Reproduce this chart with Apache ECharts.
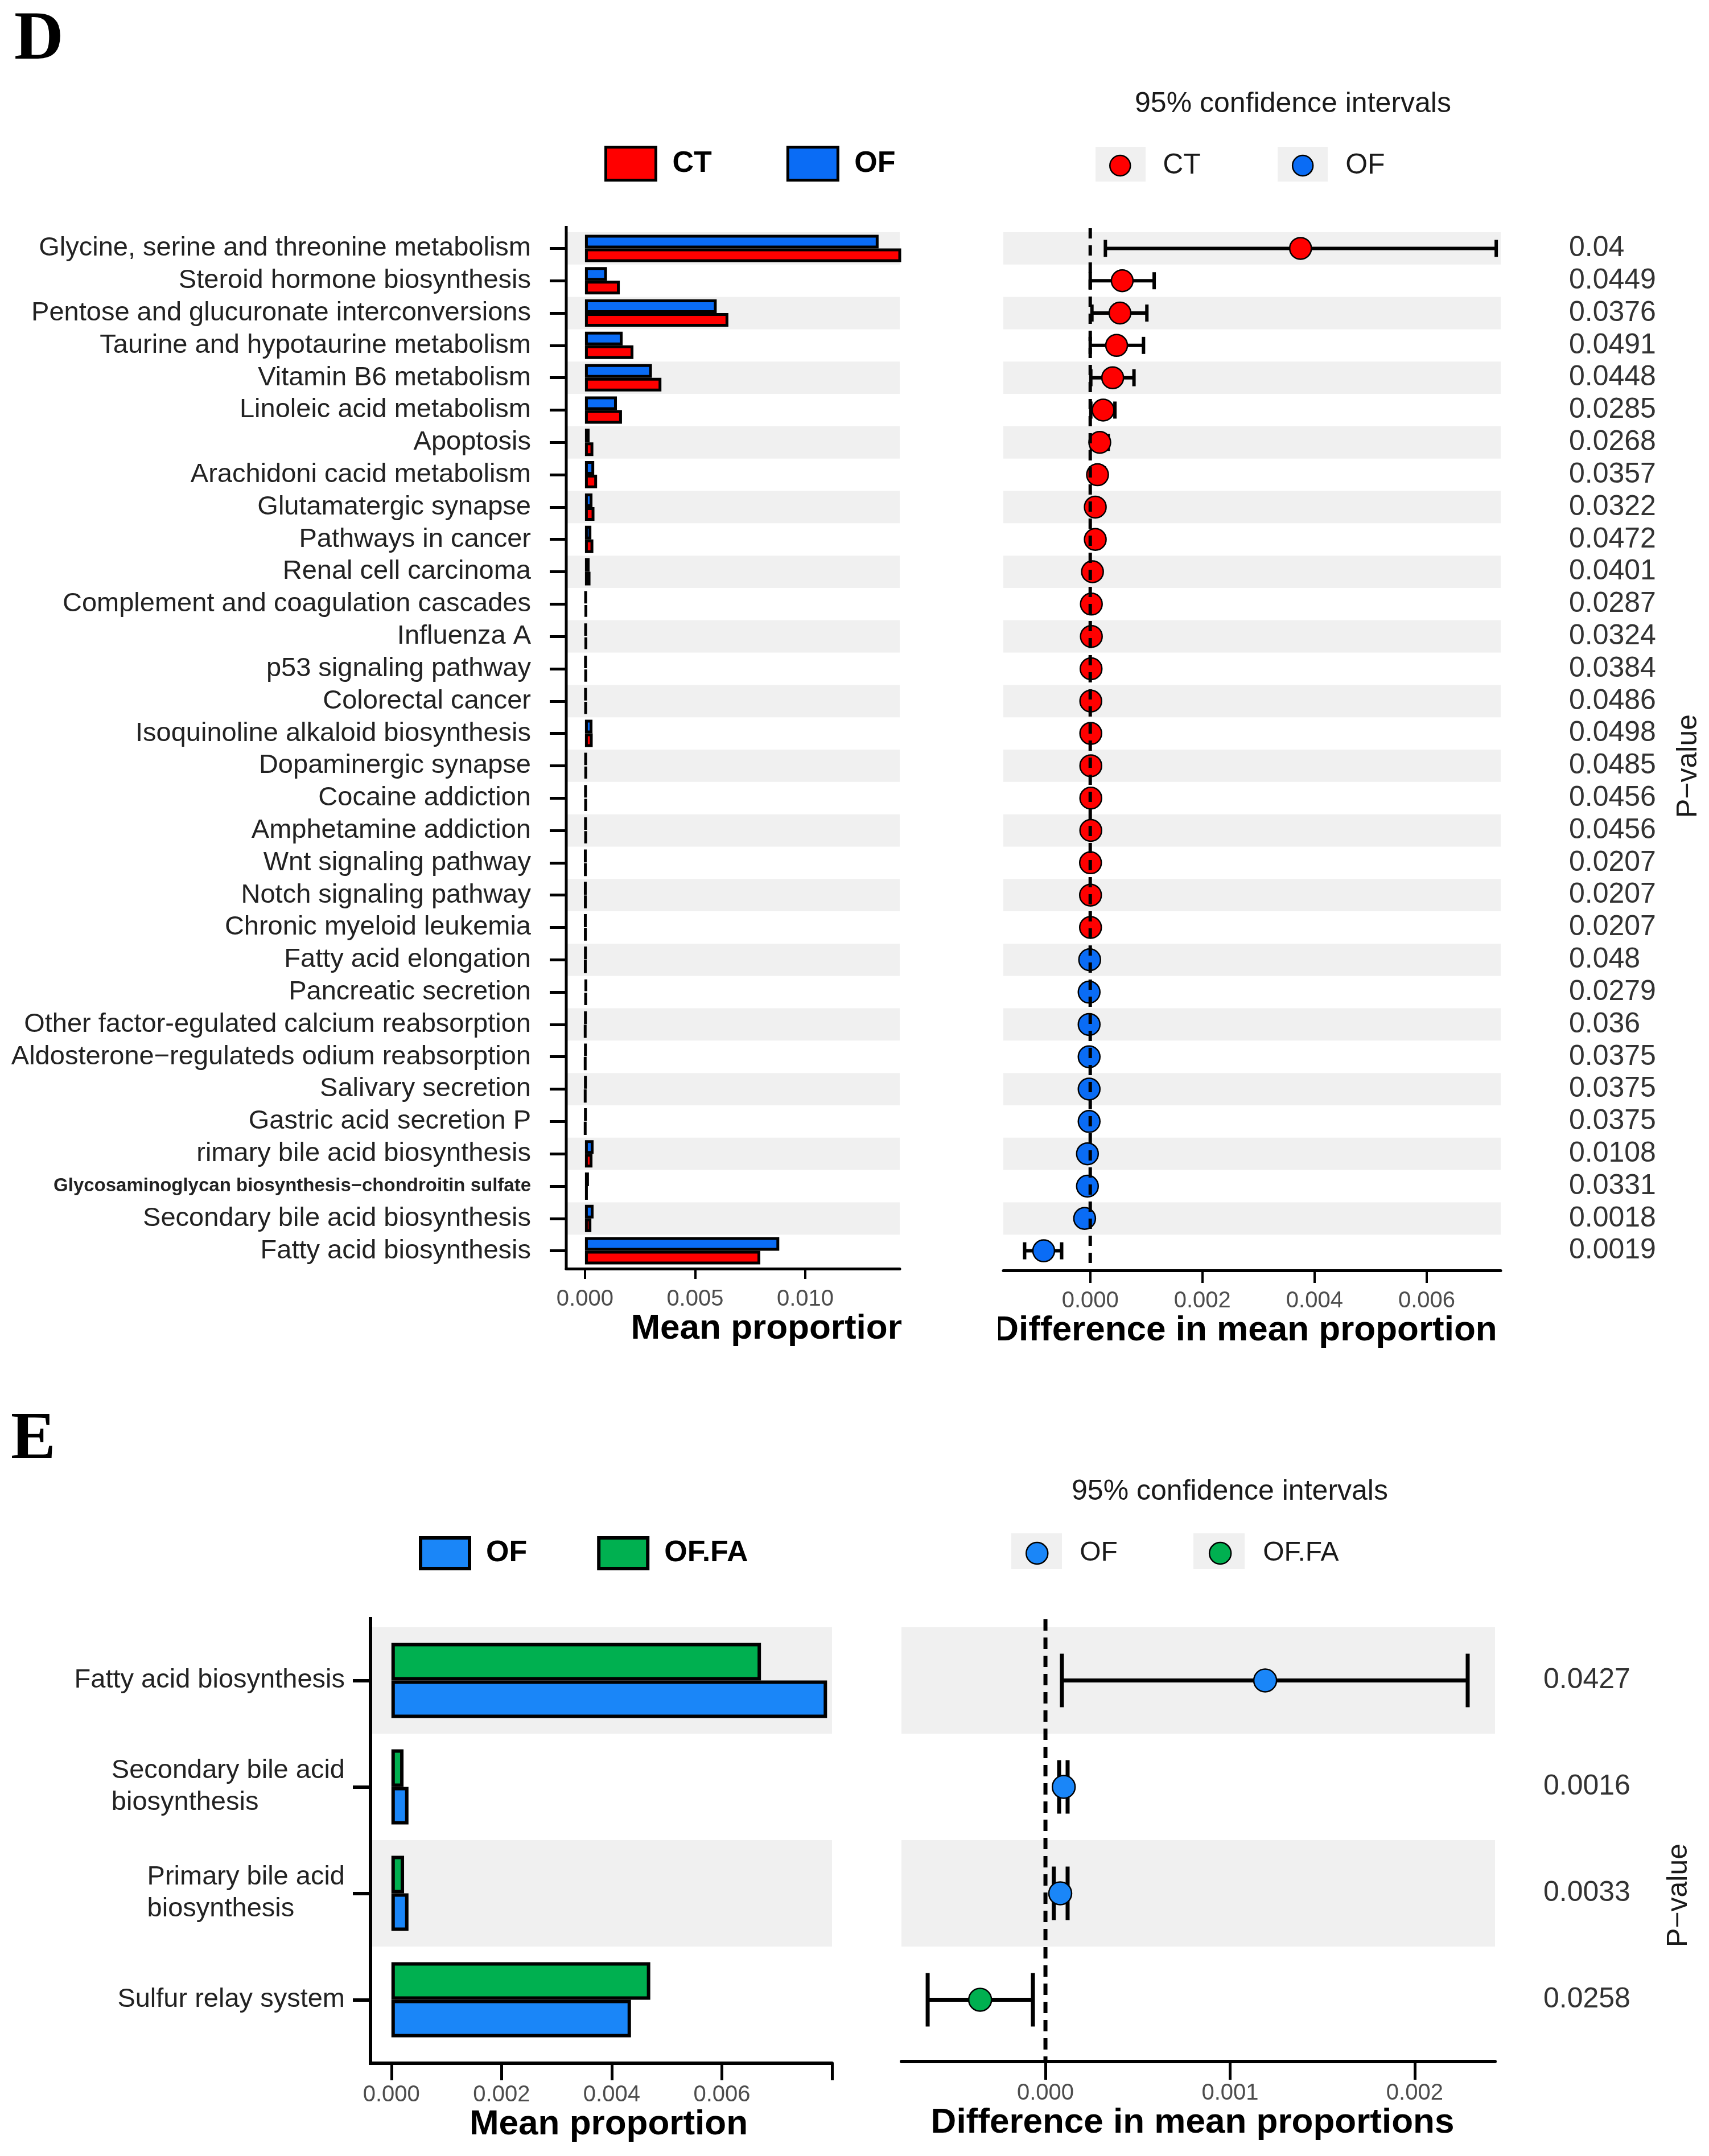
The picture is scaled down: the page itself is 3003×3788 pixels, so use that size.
<!DOCTYPE html>
<html>
<head>
<meta charset="utf-8">
<script src="https://cdn.jsdelivr.net/npm/echarts@6/dist/echarts.min.js"></script>
<style>
html,body{margin:0;padding:0;background:#ffffff;}
#chart{width:3003px;height:3788px;}
</style>
</head>
<body>
<div id="chart"></div>
<script>
// ---------------- Panel D data ----------------
const categoriesD = [
  'Glycine, serine and threonine metabolism',
  'Steroid hormone biosynthesis',
  'Pentose and glucuronate interconversions',
  'Taurine and hypotaurine metabolism',
  'Vitamin B6 metabolism',
  'Linoleic acid metabolism',
  'Apoptosis',
  'Arachidoni cacid metabolism',
  'Glutamatergic synapse',
  'Pathways in cancer',
  'Renal cell carcinoma',
  'Complement and coagulation cascades',
  'Influenza A',
  'p53 signaling pathway',
  'Colorectal cancer',
  'Isoquinoline alkaloid biosynthesis',
  'Dopaminergic synapse',
  'Cocaine addiction',
  'Amphetamine addiction',
  'Wnt signaling pathway',
  'Notch signaling pathway',
  'Chronic myeloid leukemia',
  'Fatty acid elongation',
  'Pancreatic secretion',
  'Other factor-egulated calcium reabsorption',
  'Aldosterone\u2212regulateds odium reabsorption',
  'Salivary secretion',
  'Gastric acid secretion P',
  'rimary bile acid biosynthesis',
  'Glycosaminoglycan biosynthesis\u2212chondroitin sulfate',
  'Secondary bile acid biosynthesis',
  'Fatty acid biosynthesis'
];
const meanOF_D = [0.01333, 0.00100, 0.00598, 0.00171, 0.00304, 0.00145, 0.00021, 0.00042,
  0.00034, 0.00029, 0.00021, 0.00006, 0.00006, 0.00005, 0.00005, 0.00034,
  0.00006, 0.00005, 0.00005, 0.00003, 0.00003, 0.00003, 0.00004, 0.00008,
  0.00004, 0.00004, 0.00004, 0.00004, 0.00039, 0.00018, 0.00039, 0.00882];
const meanCT_D = [0.01710, 0.00158, 0.00651, 0.00220, 0.00347, 0.00168, 0.00038, 0.00055,
  0.00043, 0.00038, 0.00025, 0.00008, 0.00008, 0.000065, 0.00006, 0.00035,
  0.00007, 0.00006, 0.00006, 0.000035, 0.000035, 0.000035, 0.00003, 0.00006,
  0.00002, 0.00002, 0.00002, 0.00002, 0.00034, 0.00013, 0.00029, 0.00796];
const diffD = [0.00375, 0.00057, 0.00053, 0.00047, 0.00040, 0.00023, 0.00017, 0.00013,
  0.00009, 0.00009, 0.00004, 0.00002, 0.00002, 0.000015, 0.00001, 0.00001,
  0.00001, 0.00001, 0.00001, 0.000005, 0.000005, 0.000005, -0.00001, -0.00002,
  -0.00002, -0.00002, -0.00002, -0.00002, -0.00005, -0.00005, -0.0001, -0.00083];
const ciLowD = [0.00027, 0.00000, 0.00003, 0.00000, 0.00001, 0.00001, 0.00002, 0.00001,
  0.00001, 0.00000, 0.00000, 0.000002, 0.000002, 0.000001, 0.000001, 0.000001,
  0.000001, 0.000001, 0.000001, 0.0000005, 0.0000005, 0.0000005, -0.00002, -0.00004,
  -0.00004, -0.00004, -0.00004, -0.00004, -0.00009, -0.00009, -0.00017, -0.00117];
const ciHighD = [0.00724, 0.00114, 0.00101, 0.00095, 0.00078, 0.00044, 0.00032, 0.00025,
  0.00017, 0.00018, 0.00008, 0.00004, 0.000038, 0.00003, 0.00002, 0.00002,
  0.00002, 0.00002, 0.00002, 0.00001, 0.00001, 0.00001, -0.000001, -0.000002,
  -0.000002, -0.000002, -0.000002, -0.000002, -0.00001, -0.00001, -0.00003, -0.00051];
const groupD = ['CT','CT','CT','CT','CT','CT','CT','CT','CT','CT','CT','CT','CT','CT','CT','CT',
  'CT','CT','CT','CT','CT','CT','OF','OF','OF','OF','OF','OF','OF','OF','OF','OF'];
const pValuesD = ['0.04','0.0449','0.0376','0.0491','0.0448','0.0285','0.0268','0.0357',
  '0.0322','0.0472','0.0401','0.0287','0.0324','0.0384','0.0486','0.0498',
  '0.0485','0.0456','0.0456','0.0207','0.0207','0.0207','0.048','0.0279',
  '0.036','0.0375','0.0375','0.0375','0.0108','0.0331','0.0018','0.0019'];
const ticksMeanD = [0, 0.005, 0.010];
const ticksDiffD = [0, 0.002, 0.004, 0.006];

// ---------------- Panel E data ----------------
const categoriesE = [
  'Fatty acid biosynthesis',
  'Secondary bile acid\nbiosynthesis',
  'Primary bile acid\nbiosynthesis',
  'Sulfur relay system'
];
const meanOF_E   = [0.00791, 0.00031, 0.00031, 0.00435];
const meanOFFA_E = [0.00671, 0.00022, 0.00023, 0.00470];
const diffE   = [0.00119, 0.000099, 0.00008, -0.000354];
const ciLowE  = [0.000089, 0.000074, 0.000045, -0.000638];
const ciHighE = [0.002287, 0.00012, 0.00012, -0.000068];
const groupE = ['OF','OF','OF','OF.FA'];
const pValuesE = ['0.0427','0.0016','0.0033','0.0258'];
const ticksMeanE = [0, 0.002, 0.004, 0.006, 0.008];
const labelsMeanE = [0, 0.002, 0.004, 0.006];
const ticksDiffE = [0, 0.001, 0.002];

// ---------------- styling ----------------
const FONT = '"Liberation Sans", Arial, Helvetica, sans-serif';
const SERIF = '"Liberation Serif", "Times New Roman", serif';
const RED = '#FF0000', BLUE_D = '#0A6CF5', BLUE_E = '#1A86F8', GREEN = '#00B050';
const BAND = '#F0F0F0';

function errRender(capH, lw) {
  return function (params, api) {
    const yi = api.value(2);
    const a = api.coord([api.value(0), yi]);
    const b = api.coord([api.value(1), yi]);
    const st = { stroke: '#000', lineWidth: lw };
    return {
      type: 'group',
      children: [
        { type: 'line', shape: { x1: a[0], y1: a[1], x2: b[0], y2: b[1] }, style: st },
        { type: 'line', shape: { x1: a[0], y1: a[1] - capH / 2, x2: a[0], y2: a[1] + capH / 2 }, style: st },
        { type: 'line', shape: { x1: b[0], y1: b[1] - capH / 2, x2: b[0], y2: b[1] + capH / 2 }, style: st }
      ]
    };
  };
}

// vertical dashed reference line at x = value, spanning the grid height
function zeroRender(lw, dash, extTop, extBottom) {
  return function (params, api) {
    const cs = params.coordSys;
    const x = api.coord([api.value(0), 0])[0];
    return {
      type: 'line',
      shape: { x1: x, y1: cs.y - extTop, x2: x, y2: cs.y + cs.height + extBottom },
      style: { stroke: '#000', lineWidth: lw, lineDash: dash }
    };
  };
}

const richE = {};
categoriesE.forEach(function (c, i) {
  richE['L' + i] = { align: 'left', fontSize: 47, fontFamily: FONT, color: '#222', lineHeight: 56 };
});

function valueAxis(grid, min, max, ticks, labels, offset, lw, tickLen, margin, name, namePad) {
  return {
    gridIndex: grid, type: 'value', min: min, max: max, offset: offset,
    axisLine: { show: true, onZero: false, lineStyle: { color: '#000', width: lw } },
    axisTick: { show: true, length: tickLen, customValues: ticks, lineStyle: { color: '#000', width: lw - 1 } },
    axisLabel: { customValues: labels, formatter: function (v) { return v.toFixed(3); },
      fontSize: 40, color: '#4D4D4D', margin: margin, fontFamily: FONT },
    splitLine: { show: false },
    name: name, nameLocation: 'middle', nameGap: 72,
    nameTextStyle: { fontSize: 62, fontWeight: 'bold', color: '#000', fontFamily: FONT, padding: namePad }
  };
}

const bandArea = { show: true, interval: 0, areaStyle: { color: [BAND, 'rgba(255,255,255,0)'] } };

const option = {
  animation: false,
  backgroundColor: '#ffffff',
  grid: [
    { left: 995, top: 408, width: 586, height: 1818, containLabel: false },
    { left: 1763, top: 408, width: 874, height: 1818, containLabel: false },
    { left: 651, top: 2859, width: 811, height: 748, containLabel: false },
    { left: 1584, top: 2859, width: 1043, height: 748, containLabel: false }
  ],
  xAxis: [
    valueAxis(0, -0.00085, 0.01429, ticksMeanD, ticksMeanD, 3, 5, 18, 34, 'Mean proportion', [0, 0, 0, 130]),
    valueAxis(1, -0.00155, 0.00732, ticksDiffD, ticksDiffD, 6, 5, 22, 34, 'Difference in mean proportion', [0, 24, 0, 0]),
    valueAxis(2, -0.00038, 0.008, ticksMeanE, labelsMeanE, 18, 6, 30, 36, 'Mean proportion', [0, 0, 0, 26]),
    valueAxis(3, -0.00078, 0.002435, ticksDiffE, ticksDiffE, 15, 6, 32, 36, 'Difference in mean proportions', [0, 20, 0, 0])
  ],
  yAxis: [
    { gridIndex: 0, type: 'category', inverse: true, data: categoriesD,
      axisLine: { show: false, onZero: false },
      axisTick: { show: true, alignWithLabel: true, length: 29, lineStyle: { color: '#000', width: 5 } },
      axisLabel: { interval: 0, margin: 62, fontSize: 47, color: '#222', fontFamily: FONT,
        formatter: function (v) { return v.indexOf('Glycosaminoglycan') === 0 ? '{g|' + v + '}' : v; },
        rich: { g: { fontSize: 33, fontWeight: 'bold', color: '#222', fontFamily: FONT } } },
      splitLine: { show: false }, splitArea: bandArea },
    { gridIndex: 1, type: 'category', inverse: true, data: categoriesD,
      axisLine: { show: false, onZero: false }, axisTick: { show: false }, axisLabel: { show: false, interval: 0 },
      splitLine: { show: false }, splitArea: bandArea },
    { gridIndex: 1, type: 'category', inverse: true, position: 'right', data: pValuesD,
      axisLine: { show: false, onZero: false }, axisTick: { show: false },
      axisLabel: { interval: 0, align: 'left', margin: 120, fontSize: 50, color: '#333', fontFamily: FONT },
      splitLine: { show: false },
      name: 'P\u2212value', nameLocation: 'middle', nameRotate: 90, nameGap: 305,
      nameTextStyle: { fontSize: 50, color: '#1a1a1a', fontFamily: FONT, padding: [0, 58, 0, 0] } },
    { gridIndex: 2, type: 'category', inverse: true, data: categoriesE,
      axisLine: { show: false, onZero: false },
      axisTick: { show: true, alignWithLabel: true, length: 31, lineStyle: { color: '#000', width: 6 } },
      axisLabel: { interval: 0, margin: 45, fontSize: 47, color: '#222', fontFamily: FONT, lineHeight: 56,
        formatter: function (v, i) {
          const lines = v.split('\n');
          if (lines.length === 1) return v;
          return lines.map(function (l) { return '{L' + i + '|' + l + '}'; }).join('\n');
        },
        rich: richE },
      splitLine: { show: false }, splitArea: bandArea },
    { gridIndex: 3, type: 'category', inverse: true, data: categoriesE,
      axisLine: { show: false, onZero: false }, axisTick: { show: false }, axisLabel: { show: false, interval: 0 },
      splitLine: { show: false }, splitArea: bandArea },
    { gridIndex: 3, type: 'category', inverse: true, position: 'right', data: pValuesE,
      axisLine: { show: false, onZero: false }, axisTick: { show: false },
      axisLabel: { interval: 0, align: 'left', margin: 85, fontSize: 50, color: '#333', fontFamily: FONT },
      splitLine: { show: false },
      name: 'P\u2212value', nameLocation: 'middle', nameRotate: 90, nameGap: 298,
      nameTextStyle: { fontSize: 50, color: '#1a1a1a', fontFamily: FONT, padding: [0, 194, 0, 0] } }
  ],
  legend: [
    { data: [
        { name: 'CT', icon: 'rect', itemStyle: { color: RED, borderColor: '#000', borderWidth: 5 } },
        { name: 'OF', icon: 'rect', itemStyle: { color: BLUE_D, borderColor: '#000', borderWidth: 5 } }],
      left: 1062, top: 256, padding: 0, itemWidth: 88, itemHeight: 58, itemGap: 131, selectedMode: false, z: 10,
      formatter: function (n) { return '{t|' + n + '}'; },
      textStyle: { rich: { t: { fontSize: 52, fontWeight: 'bold', color: '#000', fontFamily: FONT, padding: [0, 0, 0, 24] } } } },
    { data: [
        { name: 'CT', icon: 'circle', itemStyle: { color: RED, borderColor: '#000', borderWidth: 2.5 } },
        { name: 'OF', icon: 'circle', itemStyle: { color: BLUE_D, borderColor: '#000', borderWidth: 2.5 } }],
      left: 1949, top: 266, padding: 0, itemWidth: 36, itemHeight: 36, itemGap: 160, selectedMode: false, z: 10,
      formatter: function (n) { return '{t|' + n + '}'; },
      textStyle: { rich: { t: { fontSize: 50, color: '#1a1a1a', fontFamily: FONT, padding: [0, 0, 0, 52] } } } },
    { data: [
        { name: 'OF', icon: 'rect', itemStyle: { color: BLUE_E, borderColor: '#000', borderWidth: 6 } },
        { name: 'OF.FA', icon: 'rect', itemStyle: { color: GREEN, borderColor: '#000', borderWidth: 6 } }],
      left: 736, top: 2699, padding: 0, itemWidth: 86, itemHeight: 54, itemGap: 123, selectedMode: false, z: 10,
      formatter: function (n) { return '{t|' + n + '}'; },
      textStyle: { rich: { t: { fontSize: 52, fontWeight: 'bold', color: '#000', fontFamily: FONT, padding: [0, 0, 0, 24] } } } },
    { data: [
        { name: 'OF', icon: 'circle', itemStyle: { color: BLUE_E, borderColor: '#000', borderWidth: 2.5 } },
        { name: 'OF.FA', icon: 'circle', itemStyle: { color: GREEN, borderColor: '#000', borderWidth: 2.5 } }],
      left: 1802, top: 2705, padding: 0, itemWidth: 38, itemHeight: 38, itemGap: 160, selectedMode: false, z: 10,
      formatter: function (n) { return '{t|' + n + '}'; },
      textStyle: { rich: { t: { fontSize: 48, color: '#1a1a1a', fontFamily: FONT, padding: [0, 0, 0, 51] } } } }
  ],
  graphic: [
    { type: 'text', x: 25, y: 72, z: 10, style: { text: 'D', fontSize: 120, fontWeight: 'bold', fontFamily: SERIF, fill: '#000', align: 'left', verticalAlign: 'middle' } },
    { type: 'text', x: 19, y: 2532, z: 10, style: { text: 'E', fontSize: 118, fontWeight: 'bold', fontFamily: SERIF, fill: '#000', align: 'left', verticalAlign: 'middle' } },
    { type: 'text', x: 2272, y: 183, z: 10, style: { text: '95% confidence intervals', fontSize: 50, fontFamily: FONT, fill: '#1a1a1a', align: 'center', verticalAlign: 'middle' } },
    { type: 'text', x: 2161, y: 2621, z: 10, style: { text: '95% confidence intervals', fontSize: 50, fontFamily: FONT, fill: '#1a1a1a', align: 'center', verticalAlign: 'middle' } },
    { type: 'rect', z: 1, shape: { x: 1925, y: 258, width: 88, height: 61 }, style: { fill: BAND } },
    { type: 'rect', z: 1, shape: { x: 2245, y: 258, width: 88, height: 61 }, style: { fill: BAND } },
    { type: 'rect', z: 1, shape: { x: 1777, y: 2694, width: 89, height: 63 }, style: { fill: BAND } },
    { type: 'rect', z: 1, shape: { x: 2097, y: 2694, width: 90, height: 63 }, style: { fill: BAND } },
    { type: 'line', z: 10, shape: { x1: 995, y1: 397, x2: 995, y2: 2231 }, style: { stroke: '#000', lineWidth: 5 } },
    { type: 'line', z: 10, shape: { x1: 651, y1: 2841, x2: 651, y2: 3628 }, style: { stroke: '#000', lineWidth: 6 } },
    { type: 'rect', z: 100, shape: { x: 1584, y: 2280, width: 170, height: 110 }, style: { fill: '#ffffff' } }
  ],
  series: [
    { type: 'bar', name: 'OF', xAxisIndex: 0, yAxisIndex: 0, data: meanOF_D, barWidth: 24, barGap: '0%', clip: true,
      itemStyle: { color: BLUE_D, borderColor: '#000', borderWidth: 5 } },
    { type: 'bar', name: 'CT', xAxisIndex: 0, yAxisIndex: 0, data: meanCT_D, barWidth: 24, barGap: '0%', clip: true,
      itemStyle: { color: RED, borderColor: '#000', borderWidth: 5 } },
    { type: 'custom', name: 'ciD', xAxisIndex: 1, yAxisIndex: 1, z: 2, silent: true,
      renderItem: errRender(30, 6),
      encode: { x: [0, 1], y: 2 },
      data: ciLowD.map(function (lo, i) { return [lo, ciHighD[i], i]; }) },
    { type: 'scatter', name: 'CT', xAxisIndex: 1, yAxisIndex: 1, z: 3, symbolSize: 38,
      itemStyle: { color: RED, borderColor: '#000', borderWidth: 2.5, opacity: 1 },
      data: diffD.map(function (d, i) { return groupD[i] === 'CT' ? [d, i] : null; }).filter(Boolean) },
    { type: 'scatter', name: 'OF', xAxisIndex: 1, yAxisIndex: 1, z: 3, symbolSize: 38,
      itemStyle: { color: BLUE_D, borderColor: '#000', borderWidth: 2.5, opacity: 1 },
      data: diffD.map(function (d, i) { return groupD[i] === 'OF' ? [d, i] : null; }).filter(Boolean) },
    { type: 'custom', name: 'zeroD', xAxisIndex: 1, yAxisIndex: 1, z: 5, silent: true,
      renderItem: zeroRender(6, [18, 12], 7, 6), encode: { x: 0, y: 1 }, data: [[0, 0]] },

    { type: 'bar', name: 'OF.FA', xAxisIndex: 2, yAxisIndex: 3, data: meanOFFA_E, barWidth: 66, barGap: '0%', clip: true,
      itemStyle: { color: GREEN, borderColor: '#000', borderWidth: 6 } },
    { type: 'bar', name: 'OF', xAxisIndex: 2, yAxisIndex: 3, data: meanOF_E, barWidth: 66, barGap: '0%', clip: true,
      itemStyle: { color: BLUE_E, borderColor: '#000', borderWidth: 6 } },
    { type: 'custom', name: 'ciE', xAxisIndex: 3, yAxisIndex: 4, z: 2, silent: true,
      renderItem: errRender(94, 7),
      encode: { x: [0, 1], y: 2 },
      data: ciLowE.map(function (lo, i) { return [lo, ciHighE[i], i]; }) },
    { type: 'scatter', name: 'OF', xAxisIndex: 3, yAxisIndex: 4, z: 3, symbolSize: 40,
      itemStyle: { color: BLUE_E, borderColor: '#000', borderWidth: 2.5, opacity: 1 },
      data: diffE.map(function (d, i) { return groupE[i] === 'OF' ? [d, i] : null; }).filter(Boolean) },
    { type: 'scatter', name: 'OF.FA', xAxisIndex: 3, yAxisIndex: 4, z: 3, symbolSize: 40,
      itemStyle: { color: GREEN, borderColor: '#000', borderWidth: 2.5, opacity: 1 },
      data: diffE.map(function (d, i) { return groupE[i] === 'OF.FA' ? [d, i] : null; }).filter(Boolean) },
    { type: 'custom', name: 'zeroE', xAxisIndex: 3, yAxisIndex: 4, z: 5, silent: true,
      renderItem: zeroRender(7, [20, 12], 14, 15), encode: { x: 0, y: 1 }, data: [[0, 0]] }
  ]
};

const chart = echarts.init(document.getElementById('chart'), null, { renderer: 'canvas', width: 3003, height: 3788 });
chart.setOption(option);
</script>
</body>
</html>
